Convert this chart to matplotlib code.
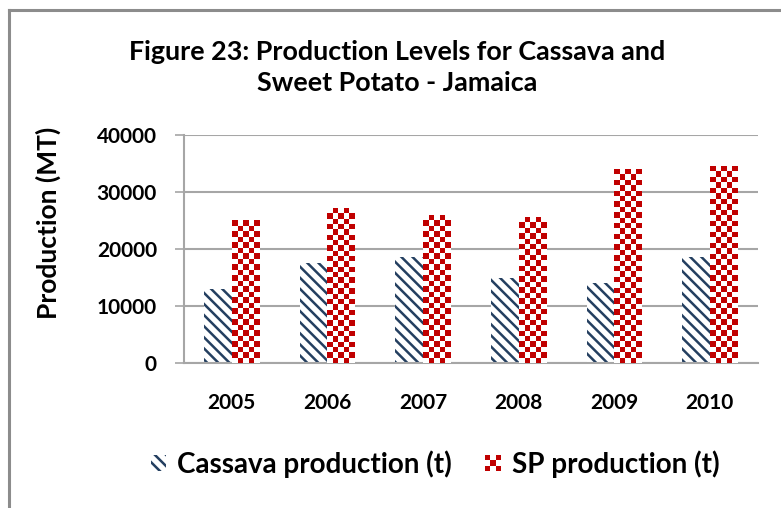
import numpy as np
import matplotlib
matplotlib.use("Agg")
import matplotlib.pyplot as plt
from matplotlib.patches import Rectangle, Patch
from matplotlib.legend_handler import HandlerBase

# --------------------------------------------------
# Production data (metric tonnes)
# --------------------------------------------------
years = ["2005", "2006", "2007", "2008", "2009", "2010"]
cassava = [13000, 17600, 18500, 14900, 14000, 18500]
sweet_potato = [25000, 27200, 25900, 25600, 34000, 34500]

navy = "#243F60"
red = "#C00000"
grid_grey = "#A6A6A6"
stripes = "\\\\\\"

plt.rcParams["font.family"] = ["Lato", "DejaVu Sans"]
plt.rcParams["font.weight"] = "bold"
plt.rcParams["hatch.linewidth"] = 1.8

fig = plt.figure(figsize=(7.81, 5.08), dpi=100)
ax = fig.add_axes([0.2356, 0.286, 0.7345, 0.448])

x = np.arange(len(years))
w = 0.288

# cassava: diagonal stripes
b1 = ax.bar(x - w / 2, cassava, w, facecolor="white", edgecolor=navy,
            hatch=stripes, linewidth=0, label="Cassava production (t)", zorder=2)

# sweet potato: red checkerboard, drawn as an image clipped to each bar
b2 = ax.bar(x + w / 2, sweet_potato, w, facecolor="white", edgecolor="none",
            linewidth=0, label="SP production (t)", zorder=2)

ax.set_ylim(0, 40000)
ax.set_xlim(-0.5, len(years) - 0.5)

fig.canvas.draw()
cell_px = 5.4
checker_cmap = matplotlib.colors.ListedColormap(["white", red])
for rect in b2.patches:
    bb = rect.get_window_extent()
    nx = max(1, int(round(bb.width / cell_px)))
    ny = max(1, int(round(bb.height / cell_px)))
    grid = (np.add.outer(np.arange(ny), np.arange(nx)) % 2)
    x0, y0 = rect.get_x(), rect.get_y()
    im = ax.imshow(grid, cmap=checker_cmap, interpolation="nearest", origin="lower",
                   extent=(x0, x0 + rect.get_width(), y0, y0 + rect.get_height()),
                   aspect="auto", zorder=3)
    im.set_clip_path(rect)

ax.set_xlim(-0.5, len(years) - 0.5)
ax.set_ylim(0, 40000)

ax.set_yticks([0, 10000, 20000, 30000, 40000])
ax.set_xticks(x)
ax.set_xticklabels(years)
ax.tick_params(axis="y", length=6.5, width=1.2, color=grid_grey, labelsize=15, pad=13)
ax.tick_params(axis="x", length=0, labelsize=15, pad=22)
ax.yaxis.grid(True, color=grid_grey, linewidth=1.5, zorder=0)
ax.set_axisbelow(True)
for side in ["top", "right"]:
    ax.spines[side].set_visible(False)
ax.spines["left"].set_color(grid_grey)
ax.spines["left"].set_linewidth(1.5)
ax.spines["bottom"].set_color(grid_grey)
ax.spines["bottom"].set_linewidth(1.5)

ax.set_ylabel("Production (MT)", fontsize=19, fontweight="bold")
ax.yaxis.label.set_verticalalignment("center")
ax.yaxis.set_label_coords(-0.237, 0.614)

fig.text(0.508, 0.867, "Figure 23: Production Levels for Cassava and\nSweet Potato - Jamaica",
         ha="center", va="center", fontsize=19.4, fontweight="bold", linespacing=1.35)


class CheckerHandler(HandlerBase):
    def create_artists(self, legend, orig_handle, xdescent, ydescent,
                       width, height, fontsize, trans):
        side = height
        s = side / 3
        x0 = -xdescent + (width - side) / 2
        y0 = -ydescent + (height - side) / 2
        arts = []
        for i in range(3):
            for j in range(3):
                c = red if (i + j) % 2 == 0 else "white"
                r = Rectangle((x0 + i * s, y0 + j * s), s, s, facecolor=c,
                              edgecolor="none", transform=trans)
                arts.append(r)
        return arts


sp_handle = Patch(facecolor=red)
cas_handle = Patch(facecolor="white", edgecolor=navy, hatch=stripes, linewidth=0)
leg = fig.legend([cas_handle, sp_handle], ["Cassava production (t)", "SP production (t)"],
                 handler_map={sp_handle: CheckerHandler()},
                 loc="center", bbox_to_anchor=(0.557, 0.0866), ncol=2, frameon=False,
                 fontsize=20, handlelength=0.55, handleheight=0.5, handletextpad=0.4,
                 columnspacing=1.2)

# outer chart border
fig.add_artist(plt.Line2D([0.011, 0.011], [0.0, 0.980], color="#8C8C8C", linewidth=2.2,
                          transform=fig.transFigure))
fig.add_artist(plt.Line2D([0.011, 1.0], [0.980, 0.980], color="#8C8C8C", linewidth=2.2,
                          transform=fig.transFigure))

fig.savefig("out.png", dpi=100)
